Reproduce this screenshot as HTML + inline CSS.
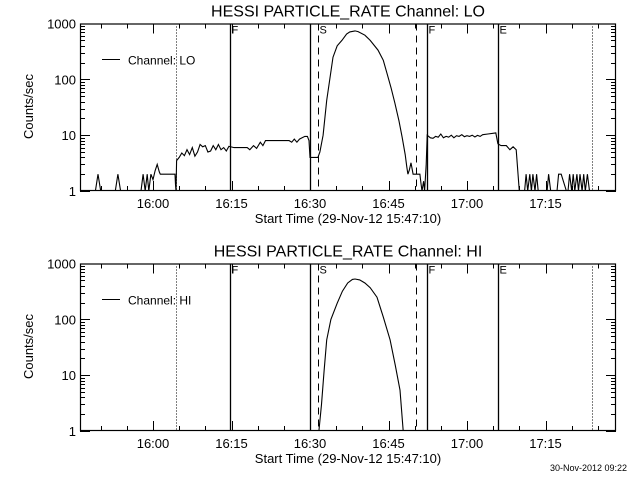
<!DOCTYPE html>
<html><head><meta charset="utf-8"><style>
html,body{margin:0;padding:0;background:#fff}
svg{display:block}
text{font-family:"Liberation Sans",sans-serif;fill:#000}
</style></head><body>
<svg id="c" width="640" height="480" xmlns="http://www.w3.org/2000/svg">
<rect width="640" height="480" fill="#fff"/>
</svg>
<script>
// data: minutes relative to 16:00, counts/sec
const loTimes = [-13.9,-11,-10.5,-10,-7.2,-6.7,-6.2,-2.3,-1.9,-1.5,-1.1,-0.8,-0.4,0,0.4,0.8,1.2,1.4,4.2,4.3,4.4,4.5,5,5.5,6,6.5,7,7.5,8,8.5,9,9.5,10,10.5,11,11.5,12,12.5,13,13.5,14,14.5,15.5,18,18.5,19.2,19.8,20.5,21,21.5,22.5,23.5,26,26.5,27,27.5,28,28.5,29,29.5,29.8,30,31.5,31.9,32.5,33.2,34.4,35.2,36.1,37,37.6,38.6,39.2,40.5,41.5,43,44,44.7,45.5,46.2,47,47.6,48.2,48.5,48.7,49,49.3,49.7,51,51.2,51.4,51.7,51.9,52.2,52.4,53,53.5,54,54.5,55,55.5,56,56.5,57,57.5,58,58.5,59,59.5,60,60.5,61,61.5,62,62.5,63,64,65.5,65.9,66.5,67.5,68.2,68.8,69.4,70,71,71.3,71.6,72,72.3,72.6,73,73.3,73.6,74.2,75.3,75.6,76,77.2,77.5,78,79,79.3,79.6,80,80.3,80.6,81,81.3,81.6,82,82.3,82.6,83,83.4,83.8];
const loValues = [1,1,2,1,1,2,1,1,2,1,2,1,2,1.6,2.3,3,2.2,2,2,1.3,1,3.5,4,4.8,4.3,5.5,4.5,6,4.2,5,6.8,6.2,6.5,5,5.2,6.5,5.5,6.8,5.5,6,5.2,6.3,6,6,5.5,6.5,5.8,7.5,6.5,8,8,8,8,7.5,8.5,7.5,8.5,9,9.5,9.5,8,4,4,5,10,42,250,400,500,650,710,740,720,620,500,335,220,130,70,38,18,9.3,4.5,2.7,2,2.4,3.2,2,2,1.4,1,1.5,1,3,10,9,8.8,9.5,9.2,10.5,9,9.5,9.2,10,9,9.8,9.5,10.2,9.4,9.8,9.5,10,9.3,9.9,9.5,10.2,10.5,11,7,6.5,6.5,5.5,6.2,5.5,1,1,2,1,2,1,2,1,2,1,1,1,2,1,1,2,2,1,1,2,1,2,1,2,1,2,1,2,1,2,1];
const hiTimes = [31.7,32.2,32.7,33.2,34,35.2,36.2,37.2,38.1,38.6,39.5,40.5,41.5,42.8,44,45.3,46.3,47.2,47.8];
const hiValues = [1,3,12,43,100,195,320,450,520,530,510,450,370,250,110,43,15,5.4,1];
const xTickLabels = ["16:00","16:15","16:30","16:45","17:00","17:15"];
const xTickMinutes = [0,15,30,45,60,75];
const yTickLabels = ["1","10","100","1000"];
const yTickValues = [1,10,100,1000];
const markerMinutes = [4.4,14.7,30,31.5,50.3,52.4,65.9,83.9];
const markerStyles = ["dot","solid","solid","dash","dash","solid","solid","dot"];
const markerLetters = ["","F","","S","","F","E",""];

const NS="http://www.w3.org/2000/svg";
const svg=document.getElementById('c');
const X0=80,X1=616,T0=-13.9,T1=88.5;
function xs(m){return 153+m*(78.5/15);}
function mk(tag,attrs,parent){const e=document.createElementNS(NS,tag);for(const k in attrs)e.setAttribute(k,attrs[k]);(parent||svg).appendChild(e);return e;}

function panel(top,title,legend,times,values,idx){
  const bot=top+167.5;
  const ys=v=>bot-Math.log10(v)*55.8;
  const g=mk('g',{});
  
  
  const t=mk('text',{x:348,y:top-7,'font-size':16,'text-anchor':'middle'},g);
  t.textContent=title;
  
  
  const cp=mk('clipPath',{id:'cp'+idx},g);
  mk('rect',{x:X0,y:top,width:X1-X0,height:bot-top},cp);
  // markers
  markerMinutes.forEach((m,i)=>{
    const x=Math.round(xs(m))+0.5;
    const st=markerStyles[i];
    const l=mk('line',{x1:x,x2:x,y1:top,y2:bot,stroke:'#000','stroke-width':st==='solid'?1.3:1},g);
    if(st==='dot')l.setAttribute('stroke-dasharray','1,2');
    if(st==='dash')l.setAttribute('stroke-dasharray','7,5');
    
    
    if(markerLetters[i]){
      const tx=mk('text',{x:x+1,y:top+10,'font-size':11},g);
      tx.textContent=markerLetters[i];
      
      
    }
  });
  // series
  let d='';
  times.forEach((m,i)=>{d+=(i?'L':'M')+xs(m).toFixed(1)+','+ys(values[i]).toFixed(1);});
  const p=mk('path',{d:d,fill:'none',stroke:'#000','stroke-width':1.1,'clip-path':'url(#cp'+idx+')'},g);
  
  
  // frame
  const fr=mk('rect',{x:X0+0.5,y:top+0.5,width:X1-X0-1,height:bot-top-1,fill:'none',stroke:'#000','stroke-width':1.2},g);
  
  
  // x ticks
  for(let m=-10;m<=85;m+=5){
    const x=Math.round(xs(m))+0.5;const L=(m%15===0)?10:5;
    mk('line',{x1:x,x2:x,y1:bot,y2:bot-L,stroke:'#000'},g);
    mk('line',{x1:x,x2:x,y1:top,y2:top+L,stroke:'#000'},g);
  }
  xTickMinutes.forEach((m,i)=>{
    const tx=mk('text',{x:xs(m),y:bot+17,'font-size':13,'text-anchor':'middle'},g);
    tx.textContent=xTickLabels[i];
    
    
  });
  // y ticks
  for(let dec=0;dec<3;dec++){for(let k=1;k<=9;k++){
    const y=Math.round(ys(Math.pow(10,dec)*k))+0.5;const L=k===1?10:5;
    mk('line',{x1:X0,x2:X0+L,y1:y,y2:y,stroke:'#000'},g);
    mk('line',{x1:X1,x2:X1-L,y1:y,y2:y,stroke:'#000'},g);
  }}
  yTickValues.forEach((v,i)=>{
    const tx=mk('text',{x:X0-4,y:ys(v)+5,'font-size':13,'text-anchor':'end'},g);
    tx.textContent=yTickLabels[i];
    
    
  });
  const yl=mk('text',{x:0,y:0,'font-size':13,'text-anchor':'middle',transform:'translate(33,'+(top+83)+') rotate(-90)'},g);
  yl.textContent='Counts/sec';
  
  
  const xl=mk('text',{x:348,y:bot+32,'font-size':13,'text-anchor':'middle'},g);
  xl.textContent='Start Time (29-Nov-12 15:47:10)';
  
  
  const lg=mk('line',{x1:102,x2:120,y1:top+36,y2:top+36,stroke:'#000'},g);
  
  
  const lt=mk('text',{x:128,y:top+41,'font-size':12},g);
  lt.textContent=legend;
  
  
}
panel(23.5,'HESSI PARTICLE_RATE Channel: LO','Channel: LO',loTimes,loValues,1);
panel(263.5,'HESSI PARTICLE_RATE Channel: HI','Channel: HI',hiTimes,hiValues,2);
const dt=mk('text',{x:627,y:471,'font-size':9,'text-anchor':'end'});
dt.textContent='30-Nov-2012 09:22';


</script>
</body></html>
